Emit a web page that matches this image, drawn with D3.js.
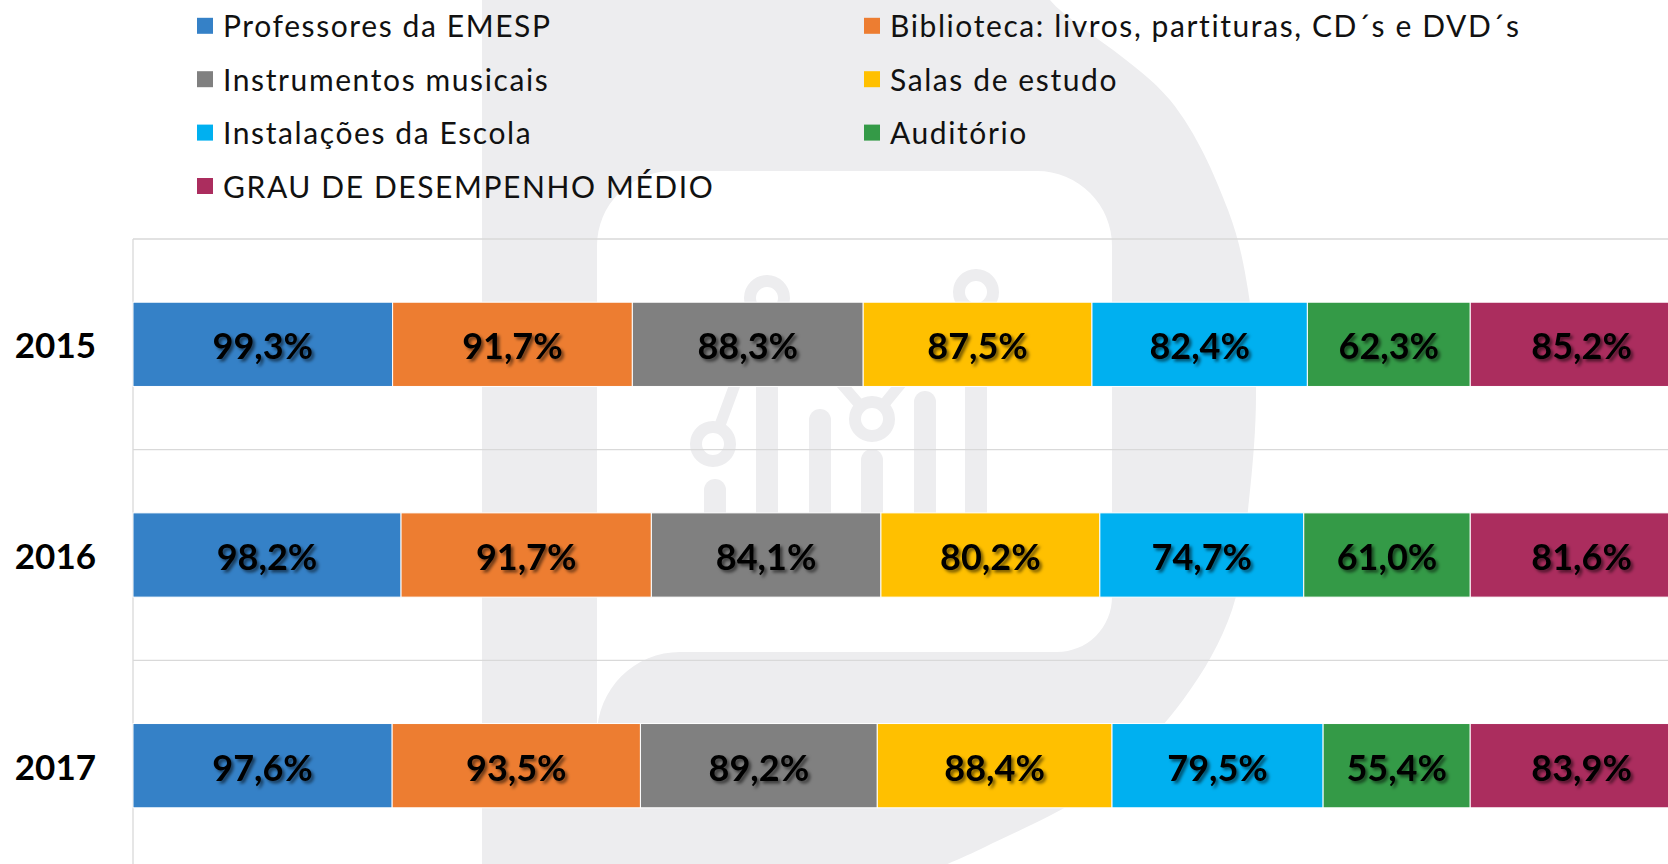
<!DOCTYPE html>
<html>
<head>
<meta charset="utf-8">
<script src="https://cdn.jsdelivr.net/npm/d3@7"></script>
<style>
  body { margin: 0; background: #fff; }
  svg { display: block; font-family: Lato, "Noto Sans", sans-serif; }
  .legend text { font-size: 30px; letter-spacing: 1.6px; fill: #111; }
  .year { font-size: 35px; font-weight: 700; fill: #000; }
  .value { font-size: 36px; font-weight: 700; fill: #000; }
</style>
</head>
<body>
<script>
// Grau de desempenho, EMESP, 2015-2017 (100% stacked bars)

var years = ['2015', '2016', '2017'];

var seriesNames = [
  'Professores da EMESP',
  'Biblioteca: livros, partituras, CD´s e DVD´s',
  'Instrumentos musicais',
  'Salas de estudo',
  'Instalações da Escola',
  'Auditório',
  'GRAU DE DESEMPENHO MÉDIO'
];

var professores  = [99.3, 98.2, 97.6],
    biblioteca   = [91.7, 91.7, 93.5],
    instrumentos = [88.3, 84.1, 89.2],
    salas        = [87.5, 80.2, 88.4],
    instalacoes  = [82.4, 74.7, 79.5],
    auditorio    = [62.3, 61.0, 55.4],
    grauMedio    = [85.2, 81.6, 83.9];

var seriesColors = ['#3581c7', '#ed7d31', '#808080', '#ffc000', '#00b0f0', '#349a47', '#ab2d5e'];

var width = 1668,
    height = 864,
    margin = { top: 239, left: 133 },
    plotRight = 1693,            // the chart runs a little past the window
    plotBottom = 871;

// build the table d3.stack wants
var seriesValues = [professores, biblioteca, instrumentos, salas, instalacoes, auditorio, grauMedio];
var table = years.map(function (y, i) {
  var row = { year: y };
  seriesNames.forEach(function (name, j) { row[name] = seriesValues[j][i]; });
  return row;
});

var stacked = d3.stack()
  .keys(seriesNames)
  .offset(d3.stackOffsetExpand)(table);

var x = d3.scaleLinear().domain([0, 1]).range([margin.left, plotRight]);
var y = d3.scaleBand().domain(years).range([margin.top, plotBottom]).padding(0);
var color = d3.scaleOrdinal().domain(seriesNames).range(seriesColors);

var pt = d3.formatLocale({ decimal: ',', thousands: '.', grouping: [3], currency: ['', ''] });
var fmt = pt.format('.1f');

var svg = d3.select('body').append('svg')
  .attr('width', width)
  .attr('height', height);

var defs = svg.append('defs');
defs.append('filter')
    .attr('id', 'shadow')
    .attr('x', '-10%').attr('y', '-20%')
    .attr('width', '130%').attr('height', '150%')
  .append('feDropShadow')
    .attr('dx', 2.5).attr('dy', 2.5)
    .attr('stdDeviation', 1.6)
    .attr('flood-color', '#000')
    .attr('flood-opacity', 0.55);

// ---- background watermark (logo) ----
var wm = svg.append('g').attr('class', 'watermark');
var wmGray = '#ededef';

var outerCurve = [[1040, -20], [1050, 0], [1170, 100], [1228, 210], [1248, 290],
  [1256, 390], [1249, 500], [1232, 610], [1183, 700], [1100, 785], [985, 847], [900, 884]];
wm.append('path')
  .attr('fill', wmGray)
  .attr('d', d3.line().curve(d3.curveCatmullRom)(outerCurve) + 'L482,884L482,-20Z');

wm.append('path')
  .attr('fill', '#fff')
  .attr('d', 'M597,246A75,75 0 0 1 672,171L1037,171A75,75 0 0 1 1112,246' +
             'L1112,597A55,55 0 0 1 1057,652L680,652A83,83 0 0 0 597,735Z');

// little chart icon inside the logo
var pills = [[715, 490], [767, 330], [820, 420], [872, 460], [925, 402], [976, 320]];
wm.selectAll('line.pill').data(pills).enter().append('line')
  .attr('class', 'pill')
  .attr('x1', function (d) { return d[0]; }).attr('x2', function (d) { return d[0]; })
  .attr('y1', function (d) { return d[1]; }).attr('y2', 560)
  .attr('stroke', wmGray).attr('stroke-width', 22).attr('stroke-linecap', 'round');

var rings = [[713, 444], [767, 298], [872, 419], [976, 292]];
wm.append('path')
  .attr('d', d3.line()(rings))
  .attr('fill', 'none').attr('stroke', wmGray).attr('stroke-width', 11);
wm.selectAll('circle').data(rings).enter().append('circle')
  .attr('cx', function (d) { return d[0]; })
  .attr('cy', function (d) { return d[1]; })
  .attr('r', 17)
  .attr('fill', '#fff').attr('stroke', wmGray).attr('stroke-width', 12);

// ---- gridlines ----
var grid = svg.append('g').attr('class', 'grid');
var edges = years.map(function (d) { return y(d); }).concat([y.range()[1]]);
grid.selectAll('line').data(edges).enter().append('line')
  .attr('x1', margin.left).attr('x2', width)
  .attr('y1', function (d) { return d; }).attr('y2', function (d) { return d; })
  .attr('stroke', '#d9d9d9').attr('stroke-width', 1.3);
grid.append('line')
  .attr('x1', margin.left).attr('x2', margin.left)
  .attr('y1', margin.top).attr('y2', height)
  .attr('stroke', '#d9d9d9').attr('stroke-width', 1.3);

// ---- bars ----
var barH = y.bandwidth() * 0.4;
var layers = svg.append('g').selectAll('g').data(stacked).enter().append('g')
  .attr('fill', function (d) { return color(d.key); });

layers.selectAll('rect').data(function (d) { return d; }).enter().append('rect')
  .attr('x', function (d) { return x(d[0]); })
  .attr('width', function (d) { return x(d[1]) - x(d[0]); })
  .attr('y', function (d) { return y(d.data.year) + (y.bandwidth() - barH) / 2; })
  .attr('height', barH)
  .attr('stroke', '#fff').attr('stroke-width', 1);

// value labels
layers.selectAll('text').data(function (d) {
    return d.map(function (p) { return { p: p, key: d.key }; });
  }).enter().append('text')
  .attr('class', 'value')
  .attr('filter', 'url(#shadow)')
  .attr('text-anchor', 'middle')
  .attr('x', function (d) { return (x(d.p[0]) + x(d.p[1])) / 2; })
  .attr('y', function (d) { return y(d.p.data.year) + y.bandwidth() / 2 + 15; })
  .text(function (d) { return fmt(d.p.data[d.key]) + '%'; });

// year labels
svg.append('g').selectAll('text').data(years).enter().append('text')
  .attr('class', 'year')
  .attr('text-anchor', 'end')
  .attr('x', 96)
  .attr('y', function (d) { return y(d) + y.bandwidth() / 2 + 14; })
  .text(function (d) { return d; });

// ---- legend: two columns, row major ----
var legendCols = [197, 864],
    legendTop = 37.3,
    legendStep = 53.4;

var legend = svg.append('g').attr('class', 'legend')
  .selectAll('g').data(seriesNames).enter().append('g')
  .attr('transform', function (d, i) {
    return 'translate(' + legendCols[i % 2] + ',' + (legendTop + Math.floor(i / 2) * legendStep) + ')';
  });
legend.append('rect')
  .attr('x', 0).attr('y', -19.5)
  .attr('width', 16).attr('height', 16)
  .attr('fill', function (d) { return color(d); });
legend.append('text')
  .attr('x', 26).attr('y', 0)
  .text(function (d) { return d; });
</script>
</body>
</html>
